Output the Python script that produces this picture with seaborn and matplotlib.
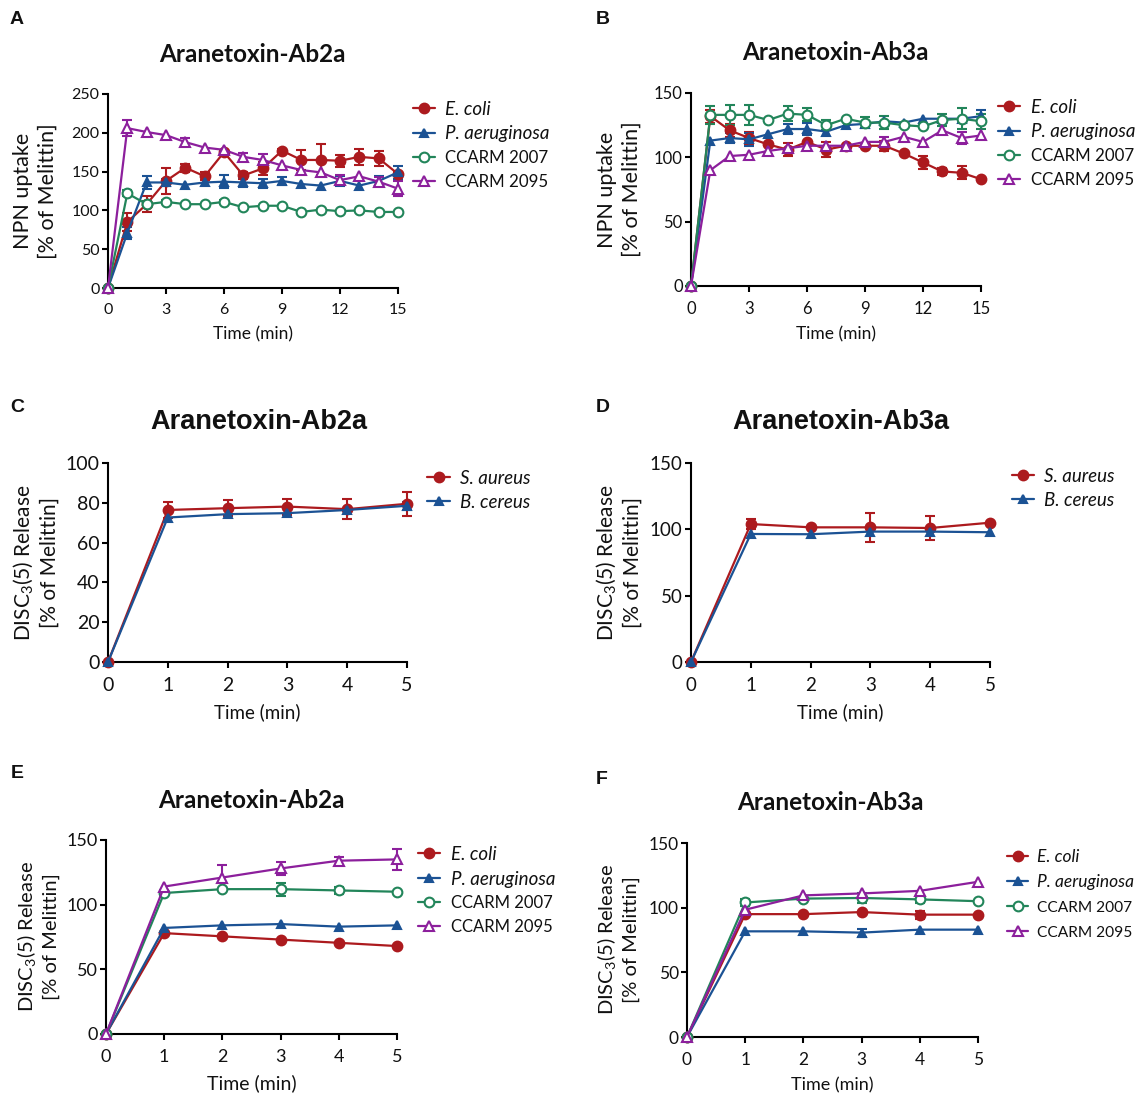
import matplotlib
matplotlib.use("Agg")
import matplotlib.pyplot as plt
import seaborn as sns

sns.set_theme(style="ticks")
plt.rcParams["font.family"] = ["Lato", "DejaVu Sans"]
plt.rcParams["mathtext.fontset"] = "custom"
plt.rcParams["mathtext.rm"] = "Lato"
plt.rcParams["mathtext.it"] = "Lato:italic"
plt.rcParams["mathtext.bf"] = "Lato:bold"

# ---- data ----
time_15 = list(range(16))
time_5 = list(range(6))

# A: NPN uptake, Aranetoxin-Ab2a
a_ecoli = [0, 85, 108, 138, 155, 144, 175, 145, 154, 177, 165, 165, 164, 169, 167, 147]
a_ecoli_err = [0, 12, 10, 17, 5, 5, 3, 5, 8, 2, 13, 20, 8, 10, 10, 3]
a_paer = [0, 71, 136, 136, 133, 136, 137, 136, 135, 138, 134, 132, 138, 132, 138, 149]
a_paer_err = [0, 8, 8, 5, 0, 0, 8, 6, 6, 5, 0, 0, 6, 0, 6, 8]
a_c2007 = [0, 122, 108, 111, 108, 108, 111, 104, 106, 106, 98, 101, 99, 100, 98, 98]
a_c2007_err = [0, 4, 4, 3, 0, 0, 3, 0, 0, 0, 0, 0, 0, 0, 0, 0]
a_c2095 = [0, 206, 201, 197, 188, 181, 178, 169, 165, 158, 152, 149, 139, 144, 137, 128]
a_c2095_err = [0, 10, 0, 0, 5, 0, 0, 5, 8, 0, 0, 0, 6, 0, 6, 10]

# B: NPN uptake, Aranetoxin-Ab3a
b_ecoli = [0, 132, 121, 115, 110, 106, 112, 106, 109, 109, 109, 103, 96, 89, 88, 83]
b_ecoli_err = [0, 5, 5, 5, 0, 5, 0, 6, 0, 0, 4, 0, 5, 3, 5, 0]
b_paer = [0, 113, 115, 114, 118, 122, 122, 120, 125, 126, 128, 127, 130, 130, 130, 132]
b_paer_err = [0, 0, 4, 5, 0, 4, 5, 0, 0, 0, 0, 0, 0, 0, 0, 5]
b_c2007 = [0, 133, 133, 133, 129, 134, 133, 125, 130, 127, 127, 125, 124, 129, 130, 128]
b_c2007_err = [0, 7, 8, 8, 0, 6, 5, 4, 0, 4, 5, 0, 0, 5, 8, 6]
b_c2095 = [0, 90, 101, 102, 105, 107, 109, 109, 109, 112, 112, 116, 112, 121, 115, 117]
b_c2095_err = [0, 0, 0, 0, 0, 0, 0, 0, 0, 0, 4, 0, 0, 0, 5, 0]

# C: DiSC3(5) release, Gram-positive, Aranetoxin-Ab2a
c_saur = [0, 76.4, 77.3, 78.1, 76.8, 79.5]
c_saur_err = [0, 4, 4, 4, 5, 6]
c_bcer = [0, 72.6, 74.3, 74.8, 76.4, 78.5]
c_bcer_err = [0, 0, 0, 0, 0, 2]

# D: DiSC3(5) release, Gram-positive, Aranetoxin-Ab3a
d_saur = [0, 104, 101.5, 101.5, 101, 105]
d_saur_err = [0, 4, 0, 11, 9, 0]
d_bcer = [0, 96.5, 96.3, 98.3, 98.3, 97.8]
d_bcer_err = [0, 0, 0, 0, 0, 0]

# E: DiSC3(5) release, Gram-negative, Aranetoxin-Ab2a
e_ecoli = [0, 78, 75.5, 73, 70.5, 68]
e_ecoli_err = [0, 0, 0, 0, 0, 0]
e_paer = [0, 82, 84, 85, 83, 84]
e_paer_err = [0, 0, 0, 0, 0, 0]
e_c2007 = [0, 109, 112, 112, 111, 110]
e_c2007_err = [0, 2, 0, 5, 3, 0]
e_c2095 = [0, 114, 121, 128, 134, 135]
e_c2095_err = [0, 0, 10, 5, 3, 8]

# F: DiSC3(5) release, Gram-negative, Aranetoxin-Ab3a
f_ecoli = [0, 95, 95, 96.6, 94.6, 94.6]
f_ecoli_err = [0, 0, 0, 0, 3, 0]
f_paer = [0, 81.7, 81.7, 80.7, 83, 83]
f_paer_err = [0, 0, 0, 3, 0, 0]
f_c2007 = [0, 104, 107, 107.5, 106.4, 105]
f_c2007_err = [0, 3, 0, 4, 3, 0]
f_c2095 = [0, 98.4, 109.5, 111, 113, 120]
f_c2095_err = [0, 0, 0, 0, 0, 0]

neg_names = ["E. coli", "P. aeruginosa", "CCARM 2007", "CCARM 2095"]
pos_names = ["S. aureus", "B. cereus"]
neg_italic = [True, True, False, False]
pos_italic = [True, True]

# colour, marker, markersize, filled
styles = {
    "E. coli": ("#AC1A1E", "o", 7, True),
    "S. aureus": ("#AC1A1E", "o", 7, True),
    "P. aeruginosa": ("#1B5294", "^", 6, True),
    "B. cereus": ("#1B5294", "^", 6, True),
    "CCARM 2007": ("#22855A", "o", 7, False),
    "CCARM 2095": ("#8C1F9C", "^", 7.5, False),
}

W, H = 1143, 1093


def px_rect(left, top, right, bottom):
    return [left / W, 1 - bottom / H, (right - left) / W, (bottom - top) / H]


def draw_series(ax, t, y, err, name):
    color, marker, ms, filled = styles[name]
    sns.lineplot(x=t, y=y, ax=ax, color=color, marker=marker, markersize=ms,
                 markerfacecolor=color if filled else "white",
                 markeredgecolor=color, markeredgewidth=1.5, linewidth=1.6,
                 label=name, clip_on=False, zorder=3)
    keep = [i for i, e in enumerate(err) if e > 0]
    if keep:
        ax.errorbar([t[i] for i in keep], [y[i] for i in keep],
                    yerr=[err[i] for i in keep], fmt="none", ecolor=color,
                    elinewidth=1.5, capsize=3.5, capthick=1.5, zorder=2, clip_on=False)


def style_axes(ax, xmax, xticks, ymax, yticks, ylabel, label_x, tick_fs, xlabel_fs, ylabel_fs):
    ax.set_xlim(0, xmax)
    ax.set_ylim(0, ymax)
    ax.set_xticks(xticks)
    ax.set_yticks(yticks)
    sns.despine(ax=ax)
    for side in ["left", "bottom"]:
        ax.spines[side].set_linewidth(1.5)
        ax.spines[side].set_color("black")
    ax.tick_params(axis="both", length=4, width=1.5, color="black",
                   labelsize=tick_fs, labelcolor="#111111")
    ax.tick_params(axis="x", pad=6.5)
    ax.tick_params(axis="y", pad=2)
    ax.set_xlabel("Time (min)", fontsize=xlabel_fs, labelpad=7, color="#111111")
    ax.set_ylabel(ylabel, fontsize=ylabel_fs, color="#111111", linespacing=1.3)
    ax.yaxis.set_label_coords(label_x, 0.5)
    ax.grid(False)


def add_legend(ax, anchor, italics, fs, upright_fs, spacing):
    leg = ax.legend(loc="upper left", bbox_to_anchor=anchor, frameon=False,
                    fontsize=fs, handlelength=1.2, handletextpad=0.55,
                    labelspacing=spacing, borderpad=0, borderaxespad=0)
    for txt, it in zip(leg.get_texts(), italics):
        txt.set_color("#111111")
        if it:
            txt.set_fontstyle("italic")
        else:
            txt.set_fontsize(upright_fs)


fig = plt.figure(figsize=(W / 100, H / 100), dpi=100)
fig.patch.set_facecolor("white")

npn_label = "NPN uptake\n[% of Melittin]"
disc_label = "DISC$_3$(5) Release\n[% of Melittin]"

# A
ax = fig.add_axes(px_rect(108, 94, 398, 288))
for y, e, n in zip([a_ecoli, a_paer, a_c2007, a_c2095],
                   [a_ecoli_err, a_paer_err, a_c2007_err, a_c2095_err], neg_names):
    draw_series(ax, time_15, y, e, n)
style_axes(ax, 15, range(0, 16, 3), 250, range(0, 251, 50), npn_label, -0.172, 11.5, 12.5, 15.5)
add_legend(ax, (1.05, 0.965), neg_italic, 13.5, 12.2, 0.41)

# B
ax = fig.add_axes(px_rect(691, 93, 981, 286))
for y, e, n in zip([b_ecoli, b_paer, b_c2007, b_c2095],
                   [b_ecoli_err, b_paer_err, b_c2007_err, b_c2095_err], neg_names):
    draw_series(ax, time_15, y, e, n)
style_axes(ax, 15, range(0, 16, 3), 150, range(0, 151, 50), npn_label, -0.169, 12, 12.5, 15.5)
add_legend(ax, (1.058, 0.97), neg_italic, 13.5, 12.2, 0.41)

# C
ax = fig.add_axes(px_rect(108, 463, 407, 662))
for y, e, n in zip([c_saur, c_bcer], [c_saur_err, c_bcer_err], pos_names):
    draw_series(ax, time_5, y, e, n)
style_axes(ax, 5, range(0, 6), 100, range(0, 101, 20), disc_label, -0.16, 14, 13.5, 15)
add_legend(ax, (1.068, 0.965), pos_italic, 13.5, 13.5, 0.36)

# D
ax = fig.add_axes(px_rect(691, 463, 990, 662))
for y, e, n in zip([d_saur, d_bcer], [d_saur_err, d_bcer_err], pos_names):
    draw_series(ax, time_5, y, e, n)
style_axes(ax, 5, range(0, 6), 150, range(0, 151, 50), disc_label, -0.16, 13.5, 13.5, 15)
add_legend(ax, (1.072, 0.975), pos_italic, 13.5, 13.5, 0.36)

# E
ax = fig.add_axes(px_rect(106, 840, 397, 1034))
for y, e, n in zip([e_ecoli, e_paer, e_c2007, e_c2095],
                   [e_ecoli_err, e_paer_err, e_c2007_err, e_c2095_err], neg_names):
    draw_series(ax, time_5, y, e, n)
style_axes(ax, 5, range(0, 6), 150, range(0, 151, 50), disc_label, -0.158, 13, 14, 14.5)
add_legend(ax, (1.072, 0.97), neg_italic, 13.5, 12.0, 0.41)

# F
ax = fig.add_axes(px_rect(687, 843, 978, 1037))
for y, e, n in zip([f_ecoli, f_paer, f_c2007, f_c2095],
                   [f_ecoli_err, f_paer_err, f_c2007_err, f_c2095_err], neg_names):
    draw_series(ax, time_5, y, e, n)
style_axes(ax, 5, range(0, 6), 150, range(0, 151, 50), disc_label, -0.162, 12.5, 13, 14.5)
add_legend(ax, (1.1, 0.97), neg_italic, 12.5, 11.2, 0.55)

# titles and panel letters
titles = [("Aranetoxin-Ab2a", 252, 55, "Lato", 17.5),
          ("Aranetoxin-Ab3a", 835, 52, "Lato", 17.5),
          ("Aranetoxin-Ab2a", 259, 422, "Liberation Sans", 19.5),
          ("Aranetoxin-Ab3a", 841, 422, "Liberation Sans", 19.5),
          ("Aranetoxin-Ab2a", 251, 800, "Lato", 17.5),
          ("Aranetoxin-Ab3a", 830, 803, "Lato", 17.5)]
for txt, x, y, fam, fs in titles:
    fig.text(x / W, 1 - y / H, txt, ha="center", va="center", fontsize=fs,
             fontweight="bold", family=fam, color="#111111")

letters = [("A", 17, 19), ("B", 603, 19), ("C", 17, 408), ("D", 603, 408),
           ("E", 17, 774), ("F", 602, 780)]
for txt, x, y in letters:
    fig.text(x / W, 1 - y / H, txt, ha="center", va="center", fontsize=14,
             fontweight="bold", family="Liberation Sans", color="#111111")

fig.savefig("out.png", dpi=100)
